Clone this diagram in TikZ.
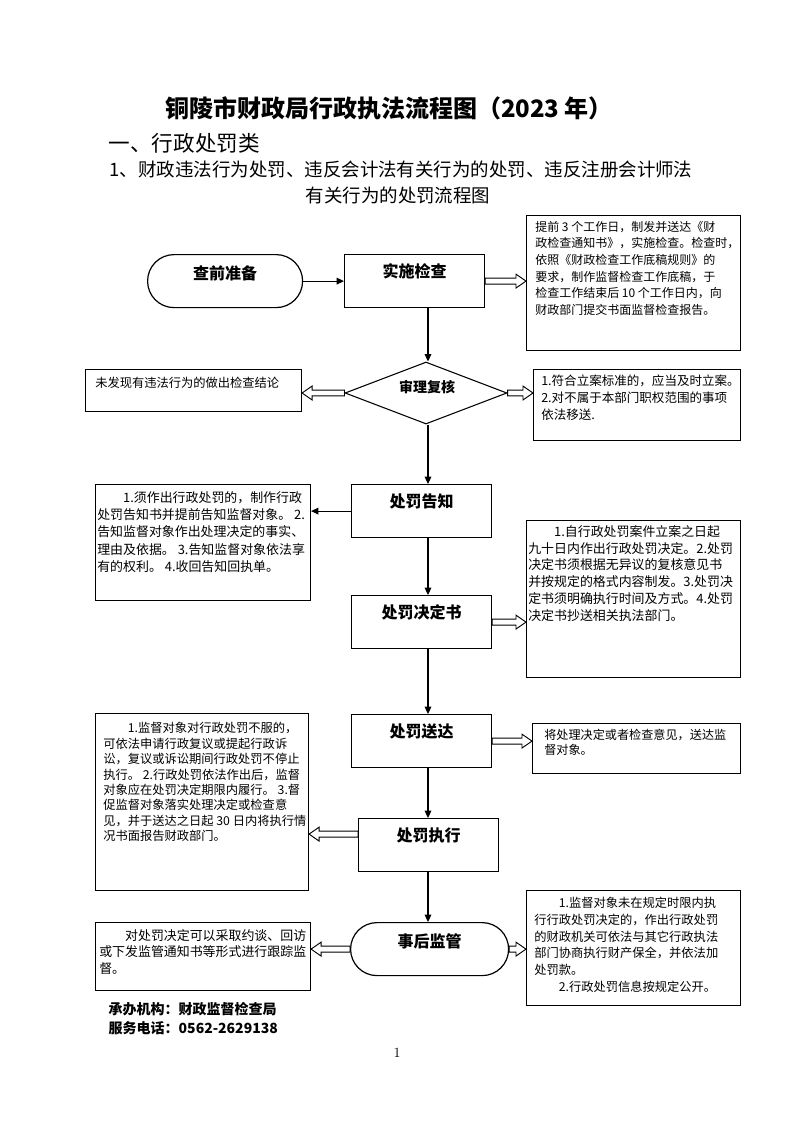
\documentclass[tikz,border=0pt]{standalone}
\usepackage{fontspec}
\newfontfamily\cjk{Noto Sans CJK SC}
\usetikzlibrary{calc,arrows.meta,shapes.geometric}
\newdimen\upx \upx=0.75pt
\tikzset{
 box/.style={draw, line width=0.8pt, anchor=north west, inner sep=0},
 boxtxt/.style 2 args={anchor=north west, align=left, inner sep=0, font=\cjk\fontsize{#1}{#2}\selectfont},
 proc/.style={draw, line width=0.9pt, inner sep=0, font=\cjk\bfseries\fontsize{12}{14}\selectfont,
   minimum width=140\upx, text height=23\upx, text depth=30\upx, anchor=north west},
 stadium/.style={proc, rounded corners=19.8pt, text height=25\upx, text depth=28\upx},
 arr/.style={-{Triangle[length=5.5pt,width=5pt]}, line width=0.8pt},
 hollow/.style={line width=0.7pt, to path={let \p1=(\tikztostart), \p2=(\tikztotarget), \n1={sign(\x2-\x1)} in
   (\x1,\y1+2.2pt) -- (\x2-\n1*7.5pt,\y1+2.2pt) -- (\x2-\n1*7.5pt,\y1+5.2pt) -- (\x2,\y1)
   -- (\x2-\n1*7.5pt,\y1-5.2pt) -- (\x2-\n1*7.5pt,\y1-2.2pt) -- (\x1,\y1-2.2pt) -- cycle}}
}
\begin{document}
\begin{tikzpicture}[x=0.75pt,y=-0.75pt]
\useasboundingbox (0,0) rectangle (794,1122);
\coordinate (cx) at (428,0);
% titles
\node[font=\cjk\bfseries\fontsize{18}{20}\selectfont] (title) at (389,108) {铜陵市财政局行政执法流程图（2023 年）};
\node[anchor=west, font=\cjk\fontsize{16.2}{18}\selectfont] (h1) at (104,143) {一、行政处罚类};
\node[anchor=west, font=\cjk\fontsize{13.85}{16}\selectfont] (h2) at (105,169) {1、财政违法行为处罚、违反会计法有关行为的处罚、违反注册会计师法};
\node[font=\cjk\fontsize{13.85}{16}\selectfont] (h3) at (398,195) {有关行为的处罚流程图};

% main flow
\node[stadium, minimum width=155\upx] (s1) at (147,254) {查前准备};
\node[proc] (p1) at (344,254) {实施检查};
\node[draw, diamond, line width=0.8pt, minimum width=162\upx, minimum height=62\upx, inner sep=0] (d) at (426,393) {};
\node[font=\cjk\bfseries\fontsize{10.5}{12}\selectfont] (dt) at (427,387) {审理复核};
\node[proc] (p2) at (351,484) {处罚告知};
\node[proc] (p3) at (351,595) {处罚决定书};
\node[proc] (p4) at (351,714) {处罚送达};
\node[proc] (p5) at (358,818) {处罚执行};
\node[stadium, minimum width=158\upx] (s2) at (350,922) {事后监管};

% side boxes
\node[box, minimum width=214\upx, minimum height=135\upx] (b1) at (526,215) {};
\node[boxtxt={9}{12.4}] (b1t) at (535,221) {提前 3 个工作日，制发并送达《财\\政检查通知书》，实施检查。检查时，\\依照《财政检查工作底稿规则》的\\要求，制作监督检查工作底稿，于\\检查工作结束后 10 个工作日内，向\\财政部门提交书面监督检查报告。};

\node[box, minimum width=216\upx, minimum height=42\upx] (bL1) at (85,369) {};
\node[boxtxt={9.2}{12.4}] (bL1t) at (95,377) {未发现有违法行为的做出检查结论};

\node[box, minimum width=207\upx, minimum height=71\upx] (bR1) at (533,369) {};
\node[boxtxt={9.4}{12.6}] (bR1t) at (541,375) {1.符合立案标准的，应当及时立案。\\2.对不属于本部门职权范围的事项\\依法移送.};

\node[box, minimum width=215\upx, minimum height=116\upx] (bL2) at (95,484) {};
\node[boxtxt={9.7}{13}] (bL2t) at (97,491) {　　1.须作出行政处罚的，制作行政\\处罚告知书并提前告知监督对象。 2.\\告知监督对象作出处理决定的事实、\\理由及依据。 3.告知监督对象依法享\\有的权利。 4.收回告知回执单。};

\node[box, minimum width=214\upx, minimum height=157\upx] (bR2) at (526,520) {};
\node[boxtxt={9.7}{12.6}] (bR2t) at (528,525) {　　1.自行政处罚案件立案之日起\\九十日内作出行政处罚决定。2.处罚\\决定书须根据无异议的复核意见书\\并按规定的格式内容制发。3.处罚决\\定书须明确执行时间及方式。4.处罚\\决定书抄送相关执法部门。};

\node[box, minimum width=208\upx, minimum height=50\upx] (bR3) at (532,723) {};
\node[boxtxt={9.1}{11.5}] (bR3t) at (544,729) {将处理决定或者检查意见，送达监\\督对象。};

\node[box, minimum width=213\upx, minimum height=177\upx] (bL3) at (95,713) {};
\node[boxtxt={9.2}{11.6}] (bL3t) at (103,722) {　　1.监督对象对行政处罚不服的，\\可依法申请行政复议或提起行政诉\\讼，复议或诉讼期间行政处罚不停止\\执行。 2.行政处罚依法作出后，监督\\对象应在处罚决定期限内履行。 3.督\\促监督对象落实处理决定或检查意\\见，并于送达之日起 30 日内将执行情\\况书面报告财政部门。};

\node[box, minimum width=215\upx, minimum height=68\upx] (bL4) at (95,922) {};
\node[boxtxt={9.7}{12.5}] (bL4t) at (99,929) {　　对处罚决定可以采取约谈、回访\\或下发监管通知书等形式进行跟踪监\\督。};

\node[box, minimum width=214\upx, minimum height=115\upx] (bR4) at (526,890) {};
\node[boxtxt={9.2}{12.5}] (bR4t) at (534,897) {　　1.监督对象未在规定时限内执\\行行政处罚决定的，作出行政处罚\\的财政机关可依法与其它行政执法\\部门协商执行财产保全，并依法加\\处罚款。\\　　2.行政处罚信息按规定公开。};

% connectors
\draw[arr] (s1.east) -- (p1.west |- s1.east);
\draw[hollow] (p1.east) to (b1.west);
\draw[arr] (p1.south -| cx) -- (d.north -| cx);
\draw[hollow] (d.west) to (bL1.east);
\draw[hollow] (d.east) to (bR1.west);
\draw[arr] (d.south -| cx) -- (p2.north -| cx);
\draw[arr] (p2.west) -- (bL2.east |- p2.west);
\draw[arr] (p2.south -| cx) -- (p3.north -| cx);
\draw[hollow] (p3.east) to (bR2.west);
\draw[arr] (p3.south -| cx) -- (p4.north -| cx);
\draw[hollow] (p4.east) to (bR3.west);
\draw[arr] (p4.south -| cx) -- (p5.north -| cx);
\draw[hollow] ($(p5.west)+(0,-11)$) to (bL3.east);
\draw[arr] (p5.south -| cx) -- (s2.north -| cx);
\draw[hollow] (s2.west) to (bL4.east);
\draw[hollow] (s2.east) to (bR4.west);

% footer
\node[anchor=west, font=\cjk\bfseries\fontsize{10.5}{12}\selectfont] (f1) at (104,1009) {承办机构：财政监督检查局};
\node[anchor=west, font=\cjk\bfseries\fontsize{10.5}{12}\selectfont] (f2) at (104,1028) {服务电话：0562-2629138};
\node[font=\fontsize{10.5}{12}\selectfont] (pg) at (397,1053) {1};
\end{tikzpicture}
\end{document}
